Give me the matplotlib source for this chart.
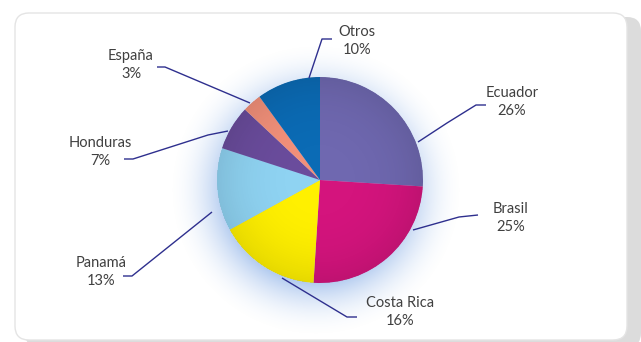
import numpy as np
import matplotlib
matplotlib.use("Agg")
import matplotlib.pyplot as plt
from matplotlib.patches import FancyBboxPatch

# Data
countries = ["Ecuador", "Brasil", "Costa Rica", "Panamá", "Honduras", "España", "Otros"]
shares = [26, 25, 16, 13, 7, 3, 10]
colors = ["#6F68B0", "#D4147D", "#FFF000", "#8FD3F2", "#6A4C9C", "#F2907A", "#0B6BB5"]

W, H = 641, 342
fig = plt.figure(figsize=(W / 100, H / 100), dpi=100)
fig.patch.set_facecolor("white")
ax = fig.add_axes([0, 0, 1, 1])

# Panel with right-hand shadow
shadow = FancyBboxPatch((25, 17), 616, 330, boxstyle="round,pad=0,rounding_size=14",
                        facecolor="#dcdcdc", edgecolor="none", zorder=0)
ax.add_patch(shadow)
panel = FancyBboxPatch((15, 13), 612, 327, boxstyle="round,pad=0,rounding_size=14",
                       facecolor="white", edgecolor="#e4e4e4", linewidth=1.0, zorder=1)
ax.add_patch(panel)

# Soft blue glow behind the pie
cx, cy, R = 320, 180, 103
yy, xx = np.mgrid[0:H, 0:W] + 0.5
d = np.hypot(xx - (cx - 4), yy - (cy + 10))
a = np.clip(1 - (d - (R - 15)) / 60.0, 0, 1) ** 2.0 * 0.7
glow = np.zeros((H, W, 4))
glow[..., 0] = 0.50
glow[..., 1] = 0.66
glow[..., 2] = 0.90
glow[..., 3] = a
ax.imshow(glow, extent=(0, W, H, 0), zorder=2, interpolation="bilinear")

# Pie (y axis points down, so counterclock=True turns clockwise on screen)
wedges, _ = ax.pie(shares, colors=colors, startangle=-90, counterclock=True,
                   center=(cx, cy), radius=R, frame=True,
                   wedgeprops=dict(linewidth=0))
for w in wedges:
    w.set_zorder(3)

# Subtle edge darkening for a rounded look
r = np.hypot(xx - cx, yy - cy)
shade = np.zeros((H, W, 4))
shade[..., 3] = np.where(r <= R, np.clip((r / R) ** 3, 0, 1) * 0.10, 0)
ax.imshow(shade, extent=(0, W, H, 0), zorder=4, interpolation="bilinear")

# Labels and leader lines (pixel coordinates, y downward)
line_color = "#2E2F8E"
labels = [
    ("Ecuador", 512, 93, [(486, 105), (476, 105), (447, 123), (418, 142)]),
    ("Brasil", 511, 209, [(478, 215), (459, 217), (413, 230)]),
    ("Costa Rica", 400, 303, [(357, 317), (347, 317), (282, 278)]),
    ("Panamá", 101, 263, [(123, 276), (132, 276), (212, 212)]),
    ("Honduras", 100, 143, [(124, 159), (133, 159), (208, 135), (228, 131)]),
    ("España", 131, 56, [(157, 67), (165, 67), (250, 103)]),
    ("Otros", 357, 32, [(332, 39), (322, 39), (309, 78)]),
]
share_of = dict(zip(countries, shares))
for name, tx, ty, pts in labels:
    ax.text(tx, ty, name, ha="center", va="center", fontsize=10.5,
            family="Lato", color="#404040", zorder=6)
    ax.text(tx, ty + 18, f"{share_of[name]}%", ha="center", va="center",
            fontsize=10.5, family="Lato", color="#404040", zorder=6)
    px, py = zip(*pts)
    ax.plot(px, py, color=line_color, linewidth=1.0, zorder=5,
            solid_capstyle="butt")

ax.set_xlim(0, W)
ax.set_ylim(H, 0)
ax.set_aspect("auto")
ax.axis("off")

fig.savefig("out.png", dpi=100, facecolor="white")
